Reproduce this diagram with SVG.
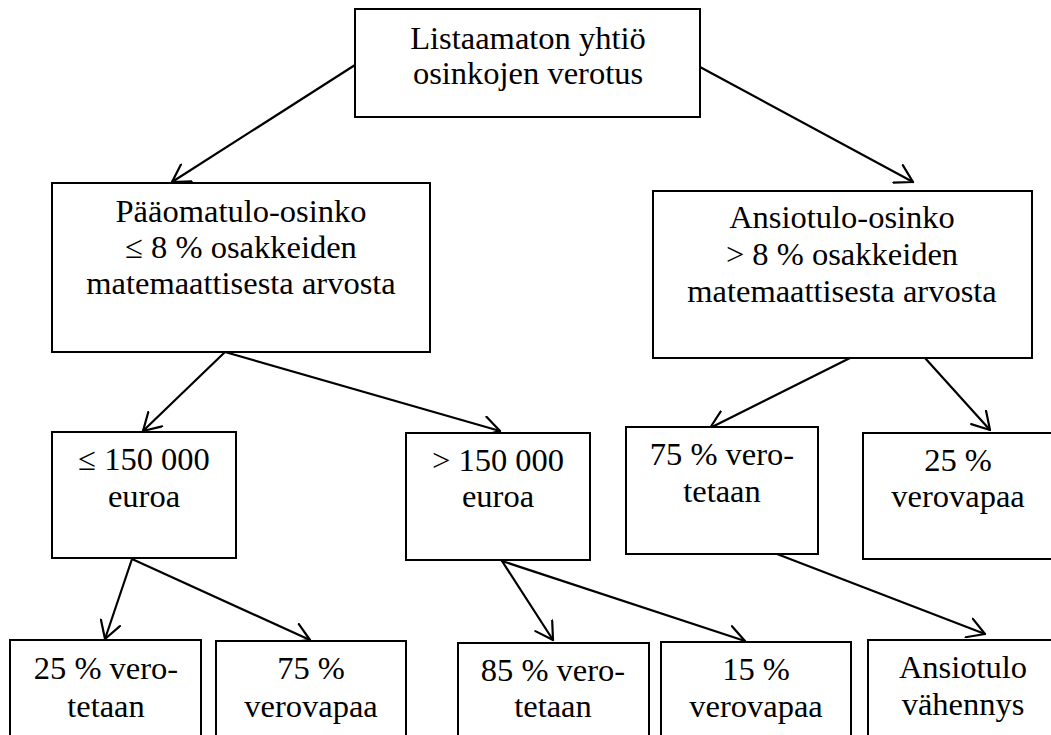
<svg xmlns="http://www.w3.org/2000/svg" width="1051" height="735" viewBox="0 0 1051 735">
<style>
.box{fill:#fff;stroke:#000;stroke-width:2}
.t{font-family:'Liberation Serif','DejaVu Serif',serif;font-size:32.5px;fill:#000;text-anchor:middle}
.c{stroke:#000;stroke-width:2.2;fill:none;stroke-linecap:round}
</style>
<defs>
<marker id="arr" viewBox="0 0 20 22" refX="18" refY="11" markerWidth="20" markerHeight="22" markerUnits="userSpaceOnUse" orient="auto">
<path d="M1,1 L18,11 L1,21" fill="none" stroke="#000" stroke-width="2.2" stroke-linejoin="round" stroke-linecap="round"/>
</marker>
</defs>
<rect width="1051" height="735" fill="#fff"/>
<g id="connectors">
<line class="c" x1="355" y1="65" x2="172" y2="182" marker-end="url(#arr)"/>
<line class="c" x1="700" y1="67" x2="913" y2="182" marker-end="url(#arr)"/>
<line class="c" x1="225" y1="352" x2="143" y2="431" marker-end="url(#arr)"/>
<line class="c" x1="225" y1="352" x2="500" y2="431" marker-end="url(#arr)"/>
<line class="c" x1="850" y1="358" x2="710" y2="428" marker-end="url(#arr)"/>
<line class="c" x1="925" y1="358" x2="990" y2="430" marker-end="url(#arr)"/>
<line class="c" x1="132" y1="559" x2="105" y2="639" marker-end="url(#arr)"/>
<line class="c" x1="132" y1="559" x2="310" y2="640" marker-end="url(#arr)"/>
<line class="c" x1="502" y1="561" x2="553" y2="640" marker-end="url(#arr)"/>
<line class="c" x1="502" y1="561" x2="745" y2="641" marker-end="url(#arr)"/>
<line class="c" x1="777" y1="554" x2="985" y2="634" marker-end="url(#arr)"/>
</g>
<g id="root">
<rect class="box" x="355" y="9" width="345" height="108"/>
<text class="t" x="528" y="49">Listaamaton yhtiö</text>
<text class="t" x="528" y="84">osinkojen verotus</text>
</g>
<g id="paaomatulo">
<rect class="box" x="52" y="183" width="378" height="169"/>
<text class="t" x="241" y="222">Pääomatulo-osinko</text>
<text class="t" x="241" y="258">≤ 8 % osakkeiden</text>
<text class="t" x="241" y="294">matemaattisesta arvosta</text>
</g>
<g id="ansiotulo">
<rect class="box" x="653" y="191" width="379" height="167"/>
<text class="t" x="842" y="228">Ansiotulo-osinko</text>
<text class="t" x="842" y="265">&gt; 8 % osakkeiden</text>
<text class="t" x="842" y="302">matemaattisesta arvosta</text>
</g>
<g id="alle150">
<rect class="box" x="52" y="432" width="184" height="126"/>
<text class="t" x="144" y="470">≤ 150 000</text>
<text class="t" x="144" y="507">euroa</text>
</g>
<g id="yli150">
<rect class="box" x="406" y="433" width="184" height="127"/>
<text class="t" x="498" y="471">&gt; 150 000</text>
<text class="t" x="498" y="507">euroa</text>
</g>
<g id="ansio75">
<rect class="box" x="626" y="427" width="192" height="127"/>
<text class="t" x="722" y="465">75 % vero-</text>
<text class="t" x="722" y="502">tetaan</text>
</g>
<g id="ansio25">
<rect class="box" x="863" y="433" width="200" height="126"/>
<text class="t" x="958" y="471">25 %</text>
<text class="t" x="958" y="507">verovapaa</text>
</g>
<g id="p25">
<rect class="box" x="10" y="640" width="191" height="110"/>
<text class="t" x="106" y="679">25 % vero-</text>
<text class="t" x="106" y="717">tetaan</text>
</g>
<g id="p75">
<rect class="box" x="216" y="641" width="190" height="110"/>
<text class="t" x="311" y="679">75 %</text>
<text class="t" x="311" y="717">verovapaa</text>
</g>
<g id="p85">
<rect class="box" x="458" y="643" width="191" height="110"/>
<text class="t" x="553" y="681">85 % vero-</text>
<text class="t" x="553" y="717">tetaan</text>
</g>
<g id="p15">
<rect class="box" x="661" y="642" width="190" height="110"/>
<text class="t" x="756" y="680">15 %</text>
<text class="t" x="756" y="717">verovapaa</text>
</g>
<g id="vahennys">
<rect class="box" x="868" y="640" width="200" height="110"/>
<text class="t" x="963" y="678">Ansiotulo</text>
<text class="t" x="963" y="715">vähennys</text>
</g>
</svg>
